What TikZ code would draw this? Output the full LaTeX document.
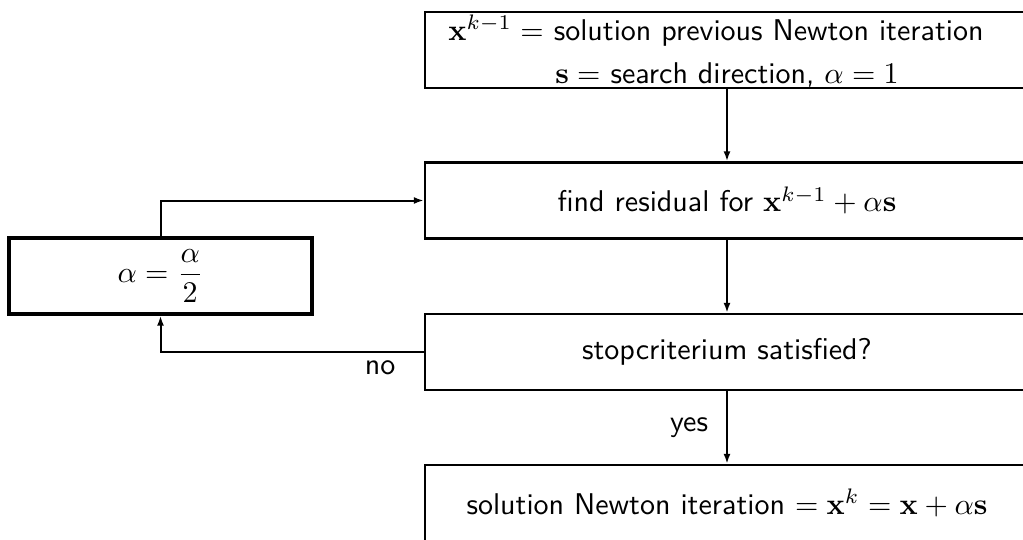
\documentclass[tikz,border=0pt]{standalone}
\usepackage{graphicx}
\usetikzlibrary{arrows.meta}
% 10pt text, enlarged three times
\newcommand{\magtext}[1]{\scalebox{3}{\fontsize{10}{12}\selectfont\sffamily #1}}
\begin{document}
\begin{tikzpicture}[x=1pt,y=-1pt,
  box/.style={draw, line width=2.3pt, minimum width=604pt, minimum height=76pt, inner sep=0pt},
  stepbox/.style={draw, line width=3.4pt, minimum width=303pt, minimum height=76pt, inner sep=0pt},
  flow/.style={line width=2pt, -{Latex[length=10pt,width=7pt]}},
  txt/.style={inner sep=0pt}]
  \useasboundingbox (0,0) rectangle (1023,539);
  \clip (0,0) rectangle (1023,539);

  % main column of steps
  \node[box] (top) at (727,50) {};
  \node[txt] (topA) at (716,31) {\magtext{$\mathbf{x}^{k-1} =$ solution previous Newton iteration}};
  \node[txt] (topB) at (727,75) {\magtext{$\mathbf{s} =$ search direction, $\alpha = 1$}};
  \node[box] (find) at (727,200.5) {\magtext{find residual for $\mathbf{x}^{k-1} + \alpha\mathbf{s}$}};
  \node[box] (stop) at (727,352) {\magtext{stopcriterium satisfied?}};
  \node[box] (sol) at (727,503) {\magtext{solution Newton iteration $= \mathbf{x}^{k} = \mathbf{x} + \alpha\mathbf{s}$}};

  % step halving
  \node[stepbox] (half) at (160.5,276) {\magtext{$\alpha = \displaystyle\frac{\alpha}{2}$}};

  % connectors
  \draw[flow] (top.south) -- (find.north);
  \draw[flow] (find.south) -- (stop.north);
  \draw[flow] (stop.south) -- node[txt, left=18pt, pos=0.5] (yes) {\magtext{yes}} (sol.north);
  \draw[flow] (half.north) |- (find.west);
  \draw[flow] (stop.west) -| node[txt, below=8pt, pos=0.083] (no) {\magtext{no}} (half.south);
\end{tikzpicture}
\end{document}
